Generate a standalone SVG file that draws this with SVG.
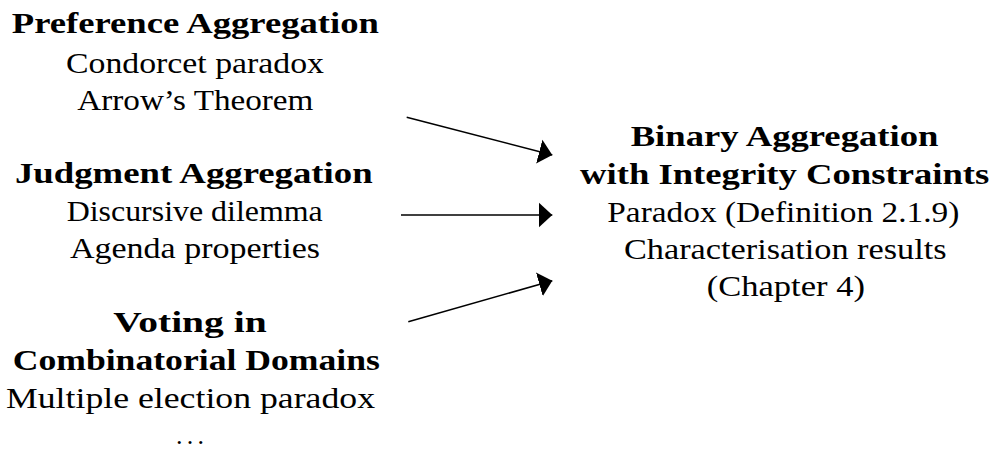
<svg xmlns="http://www.w3.org/2000/svg" width="994" height="450" viewBox="0 0 994 450">
<style>
text { font-family: 'Liberation Serif', 'DejaVu Serif', serif; font-size: 30px; fill: #000; text-anchor: middle; }
.b { font-weight: bold; }
.c { fill: none; stroke: #000; stroke-width: 1.6; }
</style>
<defs>
<marker id="ah" markerUnits="userSpaceOnUse" markerWidth="14" markerHeight="26" viewBox="0 -12 13 24" refX="12.5" refY="0" orient="auto">
<path d="M0,-11.5 L12.5,0 L0,11.5 z" fill="#000"/>
</marker>
</defs>
<rect width="994" height="450" fill="#fff"/>
<g id="preference" font-family="Liberation Serif, serif">
<text class="b" x="195.3" y="32.7" textLength="367" lengthAdjust="spacingAndGlyphs">Preference Aggregation</text>
<text x="195" y="72.7" textLength="258" lengthAdjust="spacingAndGlyphs">Condorcet paradox</text>
<text x="195.3" y="110" textLength="236" lengthAdjust="spacingAndGlyphs">Arrow’s Theorem</text>
</g>
<g id="judgment" font-family="Liberation Serif, serif">
<text class="b" x="193.8" y="183.3" textLength="357.7" lengthAdjust="spacingAndGlyphs">Judgment Aggregation</text>
<text x="194.7" y="221" textLength="256" lengthAdjust="spacingAndGlyphs">Discursive dilemma</text>
<text x="195" y="258.3" textLength="250" lengthAdjust="spacingAndGlyphs">Agenda properties</text>
</g>
<g id="voting" font-family="Liberation Serif, serif">
<text class="b" x="190" y="331.7" textLength="153.3" lengthAdjust="spacingAndGlyphs">Voting in</text>
<text class="b" x="196.3" y="370" textLength="367.3" lengthAdjust="spacingAndGlyphs">Combinatorial Domains</text>
<text x="190.5" y="407.7" textLength="369" lengthAdjust="spacingAndGlyphs">Multiple election paradox</text>
<text x="190" y="444" style="font-size:26px" textLength="28" lengthAdjust="spacing">...</text>
</g>
<g id="binary" font-family="Liberation Serif, serif">
<text class="b" x="784.5" y="145.7" textLength="307.7" lengthAdjust="spacingAndGlyphs">Binary Aggregation</text>
<text class="b" x="784.7" y="184" textLength="409.3" lengthAdjust="spacingAndGlyphs">with Integrity Constraints</text>
<text x="783.3" y="221.5" textLength="352" lengthAdjust="spacingAndGlyphs">Paradox (Definition 2.1.9)</text>
<text x="785.3" y="258.5" textLength="322.7" lengthAdjust="spacingAndGlyphs">Characterisation results</text>
<text x="785.8" y="296" textLength="158.3" lengthAdjust="spacingAndGlyphs">(Chapter 4)</text>
</g>
<g id="connectors">
<path class="c" d="M406.7,117.3 L552.3,155" marker-end="url(#ah)"/>
<path class="c" d="M401,215 L552.3,215" marker-end="url(#ah)"/>
<path class="c" d="M408.3,321.7 L552.3,280.7" marker-end="url(#ah)"/>
</g>
</svg>
